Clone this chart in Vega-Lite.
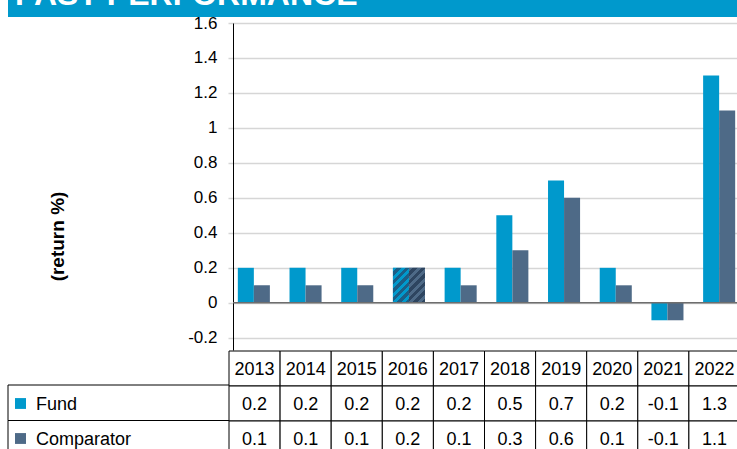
{
  "$schema": "https://vega.github.io/schema/vega-lite/v6.json",
  "width": 504,
  "height": 449,
  "autosize": "none",
  "padding": {"left": 233, "top": 0, "right": 0, "bottom": 0},
  "background": "white",
  "config": {"view": {"stroke": null}, "font": "Liberation Sans"},
  "datasets": {
    "perf": [
      {"year": "2013", "Fund": 0.2, "Comparator": 0.1},
      {"year": "2014", "Fund": 0.2, "Comparator": 0.1},
      {"year": "2015", "Fund": 0.2, "Comparator": 0.1},
      {"year": "2016", "Fund": 0.2, "Comparator": 0.2},
      {"year": "2017", "Fund": 0.2, "Comparator": 0.1},
      {"year": "2018", "Fund": 0.5, "Comparator": 0.3},
      {"year": "2019", "Fund": 0.7, "Comparator": 0.6},
      {"year": "2020", "Fund": 0.2, "Comparator": 0.1},
      {"year": "2021", "Fund": -0.1, "Comparator": -0.1},
      {"year": "2022", "Fund": 1.3, "Comparator": 1.1}
    ],
    "header": [{"title": "PAST PERFORMANCE"}]
  },
  "data": {"name": "perf"},
  "resolve": {"scale": {"x": "independent", "y": "independent"}},
  "layer": [
    {
      "data": {"name": "header"},
      "mark": {"type": "rect", "color": "#0099CC"},
      "encoding": {
        "x": {"field": "title", "type": "nominal", "axis": null, "scale": {"type": "band", "range": [-225, 504], "padding": 0}},
        "y": {"field": "title", "type": "nominal", "axis": null, "scale": {"type": "band", "range": [0, 17], "padding": 0}}
      }
    },
    {
      "data": {"name": "header"},
      "mark": {"type": "text", "color": "white", "font": "Liberation Sans", "fontSize": 32, "fontWeight": "bold", "align": "left", "baseline": "alphabetic", "dx": 7, "dy": 5},
      "encoding": {
        "text": {"field": "title"},
        "x": {"field": "title", "type": "nominal", "bandPosition": 0, "axis": null, "scale": {"type": "band", "range": [-225, 504], "padding": 0}},
        "y": {"field": "title", "type": "nominal", "bandPosition": 0, "axis": null, "scale": {"type": "band", "range": [0, 17], "padding": 0}}
      }
    },
    {
      "transform": [{"fold": ["Fund", "Comparator"], "as": ["series", "value"]}],
      "mark": {"type": "bar"},
      "encoding": {
        "x": {"field": "year", "type": "nominal", "axis": null, "scale": {"domain": ["2013","2014","2015","2016","2017","2018","2019","2020","2021","2022"], "range": [-5, 512], "paddingInner": 0.38, "paddingOuter": 0.19}},
        "xOffset": {"field": "series", "type": "nominal", "scale": {"domain": ["Fund", "Comparator"], "padding": 0}},
        "y": {
          "field": "value", "type": "quantitative",
          "scale": {"domain": [-0.27, 1.6], "range": [350, 23], "nice": false, "zero": false},
          "axis": {
            "values": [-0.2, 0, 0.2, 0.4, 0.6, 0.8, 1, 1.2, 1.4, 1.6],
            "labelExpr": "toString(datum.value)",
            "ticks": false,
            "domain": true, "domainColor": "black", "domainWidth": 1,
            "grid": true, "gridColor": "#d6d6d6", "gridWidth": 1.5,
            "labelFont": "Liberation Sans", "labelFontSize": 17, "labelColor": "black", "labelPadding": 16,
            "title": "(return %)", "titleFont": "Liberation Sans", "titleFontSize": 19, "titleFontWeight": "bold", "titleColor": "black",
            "titleX": -176, "titleY": 236, "titleAngle": 270, "titleAlign": "center", "titleBaseline": "middle"
          }
        },
        "color": {"field": "series", "type": "nominal", "legend": null, "scale": {"domain": ["Fund", "Comparator"], "range": ["#0099CC", "#4E6A87"]}}
      }
    },
    {
      "transform": [{"fold": ["Fund", "Comparator"], "as": ["series", "value"]}, {"filter": "datum.year == '2016' && datum.series == 'Fund'"}],
      "mark": {"type": "bar", "fill": {"gradient": "linear", "x1": 0, "y1": 0, "x2": 0.55, "y2": 1.2, "stops": [
        {"offset": 0, "color": "#0099CC"}, {"offset": 0.0833, "color": "#0099CC"}, {"offset": 0.0833, "color": "#1B5E86"}, {"offset": 0.1667, "color": "#1B5E86"},
        {"offset": 0.1667, "color": "#0099CC"}, {"offset": 0.25, "color": "#0099CC"}, {"offset": 0.25, "color": "#1B5E86"}, {"offset": 0.3333, "color": "#1B5E86"},
        {"offset": 0.3333, "color": "#0099CC"}, {"offset": 0.4167, "color": "#0099CC"}, {"offset": 0.4167, "color": "#1B5E86"}, {"offset": 0.5, "color": "#1B5E86"},
        {"offset": 0.5, "color": "#0099CC"}, {"offset": 0.5833, "color": "#0099CC"}, {"offset": 0.5833, "color": "#1B5E86"}, {"offset": 0.6667, "color": "#1B5E86"},
        {"offset": 0.6667, "color": "#0099CC"}, {"offset": 0.75, "color": "#0099CC"}, {"offset": 0.75, "color": "#1B5E86"}, {"offset": 0.8333, "color": "#1B5E86"},
        {"offset": 0.8333, "color": "#0099CC"}, {"offset": 0.9167, "color": "#0099CC"}, {"offset": 0.9167, "color": "#1B5E86"}, {"offset": 1, "color": "#1B5E86"}
      ]}},
      "encoding": {
        "x": {"field": "year", "type": "nominal", "axis": null, "scale": {"domain": ["2013","2014","2015","2016","2017","2018","2019","2020","2021","2022"], "range": [-5, 512], "paddingInner": 0.38, "paddingOuter": 0.19}},
        "xOffset": {"field": "series", "type": "nominal", "scale": {"domain": ["Fund", "Comparator"], "padding": 0}},
        "y": {"field": "value", "type": "quantitative", "axis": null, "scale": {"domain": [-0.27, 1.6], "range": [350, 23], "nice": false, "zero": false}}
      }
    },
    {
      "transform": [{"fold": ["Fund", "Comparator"], "as": ["series", "value"]}, {"filter": "datum.year == '2016' && datum.series == 'Comparator'"}],
      "mark": {"type": "bar", "fill": {"gradient": "linear", "x1": 0, "y1": 0, "x2": 0.55, "y2": 1.2, "stops": [
        {"offset": 0, "color": "#4E6A87"}, {"offset": 0.0833, "color": "#4E6A87"}, {"offset": 0.0833, "color": "#2E4560"}, {"offset": 0.1667, "color": "#2E4560"},
        {"offset": 0.1667, "color": "#4E6A87"}, {"offset": 0.25, "color": "#4E6A87"}, {"offset": 0.25, "color": "#2E4560"}, {"offset": 0.3333, "color": "#2E4560"},
        {"offset": 0.3333, "color": "#4E6A87"}, {"offset": 0.4167, "color": "#4E6A87"}, {"offset": 0.4167, "color": "#2E4560"}, {"offset": 0.5, "color": "#2E4560"},
        {"offset": 0.5, "color": "#4E6A87"}, {"offset": 0.5833, "color": "#4E6A87"}, {"offset": 0.5833, "color": "#2E4560"}, {"offset": 0.6667, "color": "#2E4560"},
        {"offset": 0.6667, "color": "#4E6A87"}, {"offset": 0.75, "color": "#4E6A87"}, {"offset": 0.75, "color": "#2E4560"}, {"offset": 0.8333, "color": "#2E4560"},
        {"offset": 0.8333, "color": "#4E6A87"}, {"offset": 0.9167, "color": "#4E6A87"}, {"offset": 0.9167, "color": "#2E4560"}, {"offset": 1, "color": "#2E4560"}
      ]}},
      "encoding": {
        "x": {"field": "year", "type": "nominal", "axis": null, "scale": {"domain": ["2013","2014","2015","2016","2017","2018","2019","2020","2021","2022"], "range": [-5, 512], "paddingInner": 0.38, "paddingOuter": 0.19}},
        "xOffset": {"field": "series", "type": "nominal", "scale": {"domain": ["Fund", "Comparator"], "padding": 0}},
        "y": {"field": "value", "type": "quantitative", "axis": null, "scale": {"domain": [-0.27, 1.6], "range": [350, 23], "nice": false, "zero": false}}
      }
    },
    {
      "transform": [{"filter": "datum.year == '2013'"}],
      "mark": {"type": "rule", "color": "#6e6e6e", "strokeWidth": 1.5},
      "encoding": {
        "y": {"datum": 0, "type": "quantitative", "axis": null, "scale": {"domain": [-0.27, 1.6], "range": [350, 23], "nice": false, "zero": false}}
      }
    },
    {
      "transform": [{"fold": ["Fund", "Comparator"], "as": ["series", "value"]}, {"filter": "datum.year == '2013'"}],
      "mark": {"type": "rect", "fill": "white", "stroke": "black", "strokeWidth": 1},
      "encoding": {
        "x": {"field": "year", "type": "nominal", "axis": null, "scale": {"type": "band", "range": [-225, 507], "padding": 0}},
        "y": {"field": "series", "type": "nominal", "axis": null, "scale": {"type": "band", "domain": ["Fund", "Comparator"], "range": [385, 456], "padding": 0}}
      }
    },
    {
      "transform": [{"fold": ["year", "Fund", "Comparator"], "as": ["row", "cell"]}],
      "mark": {"type": "rect", "fill": "white", "stroke": "black", "strokeWidth": 1},
      "encoding": {
        "x": {"field": "year", "type": "nominal", "axis": null, "scale": {"type": "band", "domain": ["2013","2014","2015","2016","2017","2018","2019","2020","2021","2022"], "range": [-4, 507], "padding": 0}},
        "y": {"field": "row", "type": "nominal", "axis": null, "scale": {"type": "band", "domain": ["year", "Fund", "Comparator"], "range": [351, 456], "padding": 0}}
      }
    },
    {
      "transform": [{"fold": ["year", "Fund", "Comparator"], "as": ["row", "cell"]}],
      "mark": {"type": "text", "font": "Liberation Sans", "fontSize": 18, "color": "black", "align": "center", "baseline": "middle", "dy": 1},
      "encoding": {
        "text": {"field": "cell", "type": "nominal"},
        "x": {"field": "year", "type": "nominal", "axis": null, "scale": {"type": "band", "domain": ["2013","2014","2015","2016","2017","2018","2019","2020","2021","2022"], "range": [-4, 507], "padding": 0}},
        "y": {"field": "row", "type": "nominal", "axis": null, "scale": {"type": "band", "domain": ["year", "Fund", "Comparator"], "range": [351, 456], "padding": 0}}
      }
    },
    {
      "transform": [{"fold": ["Fund", "Comparator"], "as": ["series", "value"]}, {"filter": "datum.year == '2013'"}],
      "mark": {"type": "rect"},
      "encoding": {
        "x": {"field": "year", "type": "nominal", "axis": null, "scale": {"type": "band", "range": [-218, -207], "padding": 0}},
        "y": {"field": "series", "type": "nominal", "axis": null, "scale": {"type": "band", "domain": ["Fund", "Comparator"], "range": [386, 456], "paddingInner": 0.69, "paddingOuter": 0.345}},
        "color": {"field": "series", "type": "nominal", "legend": null, "scale": {"domain": ["Fund", "Comparator"], "range": ["#0099CC", "#4E6A87"]}}
      }
    },
    {
      "transform": [{"fold": ["Fund", "Comparator"], "as": ["series", "value"]}, {"filter": "datum.year == '2013'"}],
      "mark": {"type": "text", "font": "Liberation Sans", "fontSize": 18, "color": "black", "align": "left", "baseline": "middle", "dy": 1},
      "encoding": {
        "text": {"field": "series", "type": "nominal"},
        "x": {"field": "year", "type": "nominal", "bandPosition": 0, "axis": null, "scale": {"type": "band", "range": [-197, 507], "padding": 0}},
        "y": {"field": "series", "type": "nominal", "axis": null, "scale": {"type": "band", "domain": ["Fund", "Comparator"], "range": [386, 456], "padding": 0}}
      }
    }
  ]
}
